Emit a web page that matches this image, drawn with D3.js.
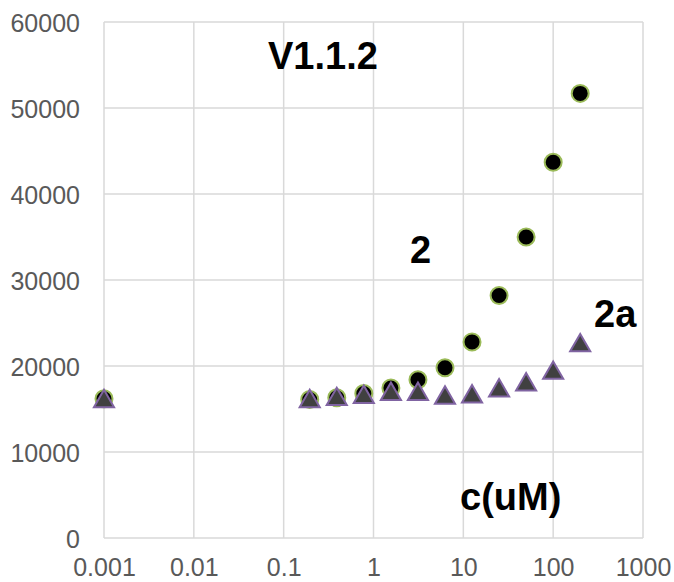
<!DOCTYPE html>
<html>
<head>
<meta charset="utf-8">
<script src="https://cdn.jsdelivr.net/npm/d3@7"></script>
<style>
  html, body { margin: 0; padding: 0; background: #fff; }
  svg { display: block; }
</style>
</head>
<body>
<svg id="chart" width="674" height="582"></svg>
<script>
// Concentrations (uM); the 0.001 point stands in for the untreated control
const concentrations = [0.001, 0.195, 0.39, 0.78, 1.5625, 3.125, 6.25, 12.5, 25, 50, 100, 200];
// Signal for compound 2 (circles)
const series2 = [16200, 16100, 16300, 16800, 17450, 18400, 19800, 22800, 28200, 35000, 43700, 51700];
// Signal for compound 2a (triangles)
const series2a = [16000, 16000, 16250, 16500, 16850, 16850, 16400, 16550, 17250, 17950, 19300, 22500];
const xTicks = [0.001, 0.01, 0.1, 1, 10, 100, 1000];
const xTickLabels = ["0.001", "0.01", "0.1", "1", "10", "100", "1000"];
const yTicks = [0, 10000, 20000, 30000, 40000, 50000, 60000];

const svg = d3.select("#chart");
const margin = { left: 104, right: 31, top: 22, bottom: 44 };
const W = 674, H = 582;

const x = d3.scaleLog().domain([0.001, 1000]).range([margin.left, W - margin.right]);
const y = d3.scaleLinear().domain([0, 60000]).range([H - margin.bottom, margin.top]);

const grid = "#d9d9d9";
const tickColor = "#595959";
const font = "'Liberation Sans', Arial, sans-serif";

// Gridlines
svg.append("g").selectAll("line.v").data(xTicks).join("line")
  .attr("x1", d => x(d)).attr("x2", d => x(d))
  .attr("y1", y(0)).attr("y2", y(60000))
  .attr("stroke", grid).attr("stroke-width", 1.5);
svg.append("g").selectAll("line.h").data(yTicks).join("line")
  .attr("x1", x(0.001)).attr("x2", x(1000))
  .attr("y1", d => y(d)).attr("y2", d => y(d))
  .attr("stroke", grid).attr("stroke-width", 1.5);

// Axes (labels only; lines come from the grid)
const xAxis = d3.axisBottom(x).tickValues(xTicks)
  .tickFormat((d, i) => xTickLabels[i]).tickSize(0).tickPadding(0);
const gx = svg.append("g").attr("transform", `translate(0,${y(0)})`).call(xAxis);
gx.select(".domain").remove();
gx.selectAll("text").attr("dy", null).attr("y", 38)
  .attr("font-family", font).attr("font-size", 25).attr("fill", tickColor);

const yAxis = d3.axisLeft(y).tickValues(yTicks).tickFormat(d3.format("d")).tickSize(0).tickPadding(0);
const gy = svg.append("g").attr("transform", `translate(${x(0.001)},0)`).call(yAxis);
gy.select(".domain").remove();
gy.selectAll("text").attr("x", -24).attr("dy", "0.36em")
  .attr("font-family", font).attr("font-size", 25).attr("fill", tickColor);

// Series 2: circles
svg.append("g").selectAll("circle").data(concentrations).join("circle")
  .attr("cx", d => x(d))
  .attr("cy", (d, i) => y(series2[i]))
  .attr("r", 8.5)
  .attr("fill", "#000")
  .attr("stroke", "#9bbb59").attr("stroke-width", 2);

// Series 2a: triangles
const tri = d3.symbol().type(d3.symbolTriangle).size(175);
svg.append("g").selectAll("path").data(concentrations).join("path")
  .attr("d", tri)
  .attr("transform", (d, i) => `translate(${x(d)},${y(series2a[i]) + 1})`)
  .attr("fill", "#404040")
  .attr("stroke", "#8064a2").attr("stroke-width", 2).attr("stroke-linejoin", "miter");

// Annotations
const note = (txt, px, py) => svg.append("text")
  .attr("x", px).attr("y", py).text(txt)
  .attr("font-family", font).attr("font-weight", "bold")
  .attr("font-size", 38).attr("fill", "#000");
note("V1.1.2", 268, 69);
note("2", 410, 263);
note("2a", 594, 327);
note("c(uM)", 460, 510);
</script>
</body>
</html>
